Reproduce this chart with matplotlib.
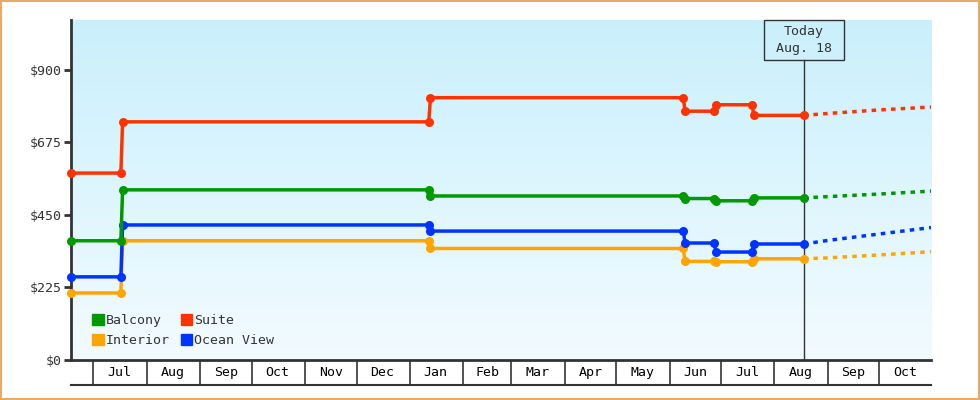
import datetime as dt
import numpy as np
import matplotlib
matplotlib.use("Agg")
import matplotlib.pyplot as plt
import matplotlib.transforms as mtransforms
from matplotlib.patches import Rectangle

D = dt.date

# CONFIG
FONT = "DejaVu Sans Mono"
plt.rcParams["font.family"] = [FONT]

X_START = D(2022, 6, 18)
X_END = D(2023, 10, 31)
TODAY = D(2023, 8, 18)
Y_MAX = 1055
Y_TICKS = [0, 225, 450, 675, 900]

# price history (date, price)
hist_dates = [D(2022, 6, 18), D(2022, 7, 17), D(2022, 7, 18), D(2023, 1, 12),
              D(2023, 1, 13), D(2023, 6, 9), D(2023, 6, 10), D(2023, 6, 27),
              D(2023, 6, 28), D(2023, 7, 19), D(2023, 7, 20), D(2023, 8, 18)]
suite = [580, 580, 739, 739, 814, 814, 772, 772, 792, 792, 759, 759]
balcony = [370, 370, 528, 528, 509, 509, 501, 501, 494, 494, 503, 503]
ocean_view = [258, 258, 419, 419, 400, 400, 363, 363, 335, 335, 360, 360]
interior = [208, 208, 370, 370, 346, 346, 306, 306, 305, 305, 314, 314]

# forecast after today
fc_dates = [D(2023, 8, 18), D(2023, 9, 1), D(2023, 10, 1), D(2023, 10, 31)]
suite_fc = [759, 765, 776, 785]
balcony_fc = [503, 507, 515, 524]
ocean_view_fc = [360, 371, 391, 411]
interior_fc = [314, 317, 326, 336]

months = ["Jul", "Aug", "Sep", "Oct", "Nov", "Dec", "Jan", "Feb", "Mar",
          "Apr", "May", "Jun", "Jul", "Aug", "Sep", "Oct"]

COLORS = {"Balcony": "#009900", "Interior": "#ffa500",
          "Suite": "#ff3300", "Ocean View": "#0033ff"}
DARK = "#333333"

series = [("Interior", interior, interior_fc),
          ("Ocean View", ocean_view, ocean_view_fc),
          ("Balcony", balcony, balcony_fc),
          ("Suite", suite, suite_fc)]

fig = plt.figure(figsize=(9.8, 4.0), dpi=100)
ax = fig.add_axes([71 / 980, 40 / 400, 860 / 980, 340 / 400])
mrow = fig.add_axes([71 / 980, 15 / 400, 860 / 980, 25 / 400], sharex=ax)

# gradient background
grad = np.linspace(0, 1, 256).reshape(-1, 1)
top = np.array([0.79, 0.94, 0.99])
bot = np.array([0.95, 0.985, 1.0])
img = top[None, None, :] * (1 - grad[..., None]) + bot[None, None, :] * grad[..., None]
ax.imshow(img, extent=[0, 1, 0, 1], transform=ax.transAxes, aspect="auto", zorder=0)

for name, vals, fc in series:
    c = COLORS[name]
    ax.plot(hist_dates, vals, color=c, lw=2.5, marker="o", ms=6.5,
            markeredgewidth=0, zorder=3, clip_on=False)
    ax.plot(fc_dates, fc, color=c, lw=2.5, ls=(0, (1.3, 1.5)), zorder=3)

ax.set_xlim(X_START, X_END)
ax.set_ylim(0, Y_MAX)
ax.set_yticks(Y_TICKS)
ax.set_yticklabels([f"${v}" for v in Y_TICKS])
ax.tick_params(axis="y", length=5, width=2, color=DARK, labelsize=9.5,
               labelcolor=DARK, pad=2)
ax.tick_params(axis="x", bottom=False, labelbottom=False)
for s in ["top", "right"]:
    ax.spines[s].set_visible(False)
for s in ["left", "bottom"]:
    ax.spines[s].set_color(DARK)
    ax.spines[s].set_linewidth(2)
    ax.spines[s].set_zorder(2.5)

# today marker
ax.axvline(TODAY, ymin=0, ymax=1 - 40 / 340, color=DARK, lw=1, zorder=2)
span = (X_END - X_START).days
box_w = 80 / 860 * span
trans = mtransforms.blended_transform_factory(ax.transData, ax.transAxes)
t0 = matplotlib.dates.date2num(TODAY)
ax.add_patch(Rectangle((t0 - box_w / 2, 1 - 40 / 340), box_w, 40 / 340,
                       transform=trans, facecolor="none", edgecolor=DARK,
                       lw=1, clip_on=False, zorder=4))
ax.text(t0, 1 - 20 / 340, "Today\nAug. 18", transform=trans, ha="center",
        va="center", fontsize=9.5, color=DARK, linespacing=1.4)

# legend
order = ["Balcony", "Interior", "Suite", "Ocean View"]
leg = ax.legend([plt.Rectangle((0, 0), 1, 1, color=COLORS[n]) for n in order],
                order, ncol=2, loc="lower left", frameon=False, fontsize=9.5,
                handlelength=0.85, handleheight=0.85, handletextpad=0.15,
                columnspacing=0.85, labelspacing=0.55,
                bbox_to_anchor=(0.011, 0.003))
for t in leg.get_texts():
    t.set_color(DARK)

# month row
m_starts = []
y, m = 2022, 7
for _ in range(len(months) + 1):
    m_starts.append(D(y, m, 1))
    m += 1
    if m > 12:
        m, y = 1, y + 1
for i, lab in enumerate(months):
    a, b = m_starts[i], min(m_starts[i + 1], X_END)
    mid = a + (b - a) / 2
    mrow.text(mid, 0.5, lab, ha="center", va="center", fontsize=9.5, color="black")
    mrow.axvline(a, color=DARK, lw=1.2)
mrow.set_ylim(0, 1)
mrow.set_yticks([])
mrow.tick_params(axis="x", bottom=False, labelbottom=False)
for s in ["top", "left", "right"]:
    mrow.spines[s].set_visible(False)
mrow.spines["bottom"].set_color(DARK)
mrow.spines["bottom"].set_linewidth(1.5)
mrow.patch.set_alpha(0)

# outer border
fig.patches.append(Rectangle((0.001, 0.002), 0.998, 0.996, transform=fig.transFigure,
                             facecolor="none", edgecolor="#e8aa66", lw=1.5))

fig.savefig("out.png", dpi=100)
